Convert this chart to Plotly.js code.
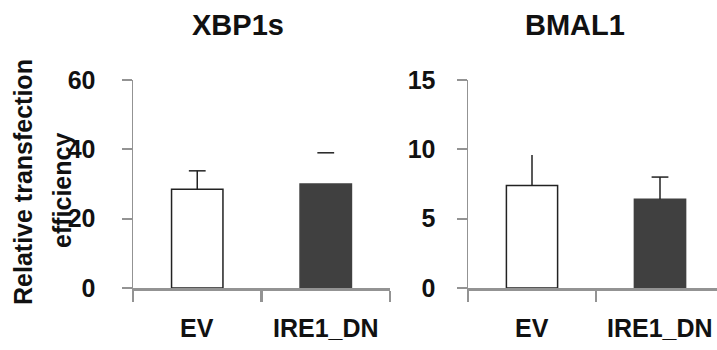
<!DOCTYPE html>
<html>
<head>
<meta charset="utf-8">
<script src="https://cdn.plot.ly/plotly-3.0.1.min.js"></script>
<style>
  html, body { margin: 0; padding: 0; background: #ffffff; }
  #chart { width: 717px; height: 350px; }
</style>
</head>
<body>
<div id="chart"></div>
<script>
// ---- data ----
const categories = ['EV', 'IRE1_DN'];
const xbp1sValues = [28.5, 30.0];
const xbp1sErrors = [5.3, 9.0];
const bmal1Values = [7.4, 6.4];
const bmal1Errors = [2.2, 1.6];
const xbp1sTicks = [0, 20, 40, 60];
const bmal1Ticks = [0, 5, 10, 15];
const panelTitles = ['XBP1s', 'BMAL1'];
const yTitleLines = ['Relative transfection', 'efficiency'];
// which error bars show a stem / a cap in the original figure
const xbp1sStem = [true, false];
const xbp1sCap = [true, true];
const bmal1Stem = [true, true];
const bmal1Cap = [false, true];

// ---- style ----
const FONT = 'Liberation Sans, Arial, sans-serif';
const AXIS = '#939393';
const INK = '#111111';
const barFill = ['#ffffff', '#404040'];
const barEdge = ['#222222', '#404040'];

function panelTraces(values, errors, stem, cap, xa, ya) {
  const bar = {
    type: 'bar', x: categories, y: values, xaxis: xa, yaxis: ya,
    width: 0.4,
    marker: { color: barFill, line: { color: barEdge, width: 1.5 } },
    error_y: {
      type: 'data', symmetric: false,
      array: errors.map((e, i) => stem[i] ? e : 0),
      arrayminus: errors.map(() => 0),
      width: 0, thickness: 1.5, color: '#222222'
    },
    hoverinfo: 'skip', showlegend: false
  };
  const cx = [], cy = [];
  categories.forEach((c, i) => { if (cap[i]) { cx.push(c); cy.push(values[i] + errors[i]); } });
  const caps = {
    type: 'scatter', mode: 'markers', x: cx, y: cy, xaxis: xa, yaxis: ya,
    marker: { symbol: 'line-ew', size: 12, color: '#222222', line: { color: '#222222', width: 1.5 } },
    hoverinfo: 'skip', showlegend: false, cliponaxis: false
  };
  return [bar, caps];
}

const data = [
  ...panelTraces(xbp1sValues, xbp1sErrors, xbp1sStem, xbp1sCap, 'x', 'y'),
  ...panelTraces(bmal1Values, bmal1Errors, bmal1Stem, bmal1Cap, 'x2', 'y2')
];

const W = 717, H = 350;
const tickFont = { family: FONT, size: 25, color: INK, weight: 'bold' };

function xAxis(domain, range, anchor) {
  return {
    domain: domain, range: range, type: 'category', anchor: anchor,
    tickson: 'boundaries', ticks: 'outside', ticklen: 11, tickwidth: 2.5, tickcolor: AXIS,
    showline: true, linecolor: AXIS, linewidth: 2.5,
    showgrid: false, zeroline: false, showticklabels: false,
    fixedrange: true
  };
}
function yAxis(range, ticks, anchor, standoff) {
  return {
    range: range, tickvals: ticks, ticktext: ticks.map(String), anchor: anchor,
    ticks: 'outside', ticklen: 10, tickwidth: 2, tickcolor: AXIS,
    showline: true, linecolor: AXIS, linewidth: 1.5,
    showgrid: false, zeroline: false, tickfont: tickFont, ticklabelstandoff: standoff,
    fixedrange: true
  };
}

const py = px => (288 - px) / 208; // pixel row -> paper y

const annotations = [
  { text: panelTitles[0], xref: 'paper', yref: 'paper', x: 237.5 / W, y: py(25),
    showarrow: false, xanchor: 'center', yanchor: 'middle',
    font: { family: FONT, size: 29, color: INK, weight: 'bold' } },
  { text: panelTitles[1], xref: 'paper', yref: 'paper', x: 575 / W, y: py(25),
    showarrow: false, xanchor: 'center', yanchor: 'middle',
    font: { family: FONT, size: 29, color: INK, weight: 'bold' } },
  { text: yTitleLines[0], xref: 'paper', yref: 'paper', x: 23 / W, y: py(182),
    textangle: -90, showarrow: false, xanchor: 'center', yanchor: 'middle',
    font: { family: FONT, size: 25, color: INK, weight: 'bold' } },
  { text: yTitleLines[1], xref: 'paper', yref: 'paper', x: 62 / W, y: py(191),
    textangle: -90, showarrow: false, xanchor: 'center', yanchor: 'middle',
    font: { family: FONT, size: 25, color: INK, weight: 'bold' } }
];
// category labels under each panel
['x', 'x2'].forEach(xa => {
  categories.forEach(c => {
    annotations.push({
      text: c, xref: xa, yref: 'paper', x: c, y: py(328),
      showarrow: false, xanchor: 'center', yanchor: 'middle',
      font: tickFont
    });
  });
});

const layout = {
  width: W, height: H,
  margin: { l: 0, r: 0, t: 80, b: 62 },
  paper_bgcolor: '#ffffff', plot_bgcolor: '#ffffff',
  showlegend: false,
  xaxis: xAxis([133 / W, 390 / W], [-0.5, 1.5], 'y'),
  yaxis: yAxis([0, 60], xbp1sTicks, 'x', 21),
  xaxis2: xAxis([468 / W, 1], [-0.5, 1.5 - 7 / 128], 'y2'),
  yaxis2: yAxis([0, 15], bmal1Ticks, 'x2', 16),
  annotations: annotations
};

Plotly.newPlot('chart', data, layout, { staticPlot: true, displayModeBar: false });
</script>
</body>
</html>
